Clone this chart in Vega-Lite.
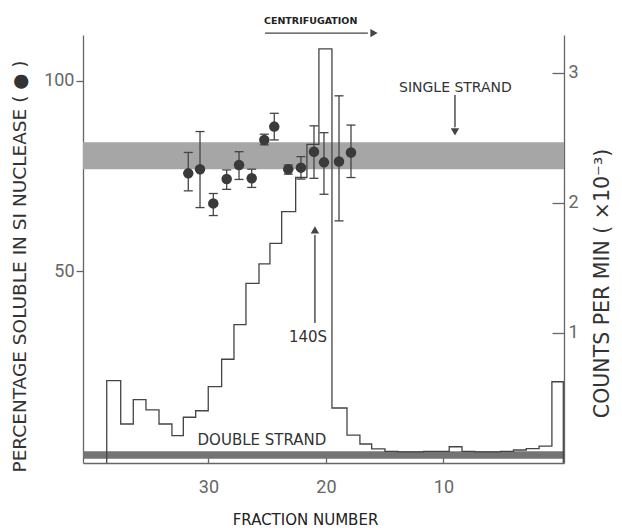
{
  "$schema": "https://vega.github.io/schema/vega-lite/v6.json",
  "width": 481,
  "height": 428,
  "autosize": {"type": "none"},
  "padding": {"left": 83, "top": 35, "right": 58, "bottom": 65},
  "background": "white",
  "config": {"view": {"stroke": null}, "font": "DejaVu Sans"},
  "datasets": {
    "bands": [
      {"band": "single", "lo": 76.8, "hi": 83.9},
      {"band": "double", "lo": 0.6, "hi": 2.6}
    ],
    "dots": [
      {"f": 31.72, "pct": 75.7, "lo": 71.1, "hi": 81.2},
      {"f": 30.72, "pct": 76.8, "lo": 66.7, "hi": 86.7},
      {"f": 29.59, "pct": 67.8, "lo": 64.6, "hi": 70.4},
      {"f": 28.45, "pct": 74.2, "lo": 71.5, "hi": 76.6},
      {"f": 27.40, "pct": 77.9, "lo": 74.1, "hi": 81.4},
      {"f": 26.32, "pct": 74.4, "lo": 72.0, "hi": 76.8},
      {"f": 25.25, "pct": 84.5, "lo": 83.2, "hi": 86.0},
      {"f": 24.40, "pct": 88.0, "lo": 84.5, "hi": 91.5},
      {"f": 23.21, "pct": 76.8, "lo": 75.5, "hi": 77.9},
      {"f": 22.13, "pct": 77.2, "lo": 74.2, "hi": 80.1},
      {"f": 21.02, "pct": 81.4, "lo": 74.4, "hi": 88.2},
      {"f": 20.17, "pct": 78.6, "lo": 70.2, "hi": 86.4},
      {"f": 18.89, "pct": 78.8, "lo": 63.2, "hi": 96.1},
      {"f": 17.87, "pct": 81.2, "lo": 74.6, "hi": 88.4}
    ],
    "hist": [
      {"i": 0, "f": 38.66, "cpm": 0},
      {"i": 1, "f": 38.66, "cpm": 0.633},
      {"i": 2, "f": 37.47, "cpm": 0.30},
      {"i": 3, "f": 36.40, "cpm": 0.487},
      {"i": 4, "f": 35.32, "cpm": 0.408},
      {"i": 5, "f": 34.21, "cpm": 0.30},
      {"i": 6, "f": 33.11, "cpm": 0.21},
      {"i": 7, "f": 32.14, "cpm": 0.352},
      {"i": 8, "f": 31.09, "cpm": 0.402},
      {"i": 9, "f": 30.02, "cpm": 0.587},
      {"i": 10, "f": 28.88, "cpm": 0.798},
      {"i": 11, "f": 27.83, "cpm": 1.064},
      {"i": 12, "f": 26.81, "cpm": 1.382},
      {"i": 13, "f": 25.70, "cpm": 1.531},
      {"i": 14, "f": 24.77, "cpm": 1.69},
      {"i": 15, "f": 23.77, "cpm": 1.933},
      {"i": 16, "f": 22.58, "cpm": 2.196},
      {"i": 17, "f": 21.62, "cpm": 2.45},
      {"i": 18, "f": 20.60, "cpm": 3.185},
      {"i": 19, "f": 19.49, "cpm": 0.423},
      {"i": 20, "f": 18.21, "cpm": 0.215},
      {"i": 21, "f": 17.11, "cpm": 0.146},
      {"i": 22, "f": 16.11, "cpm": 0.108},
      {"i": 23, "f": 14.98, "cpm": 0.09},
      {"i": 24, "f": 13.89, "cpm": 0.085},
      {"i": 25, "f": 12.79, "cpm": 0.085},
      {"i": 26, "f": 11.70, "cpm": 0.09},
      {"i": 27, "f": 10.60, "cpm": 0.09},
      {"i": 28, "f": 9.51, "cpm": 0.125},
      {"i": 29, "f": 8.42, "cpm": 0.09},
      {"i": 30, "f": 7.33, "cpm": 0.085},
      {"i": 31, "f": 6.23, "cpm": 0.085},
      {"i": 32, "f": 5.14, "cpm": 0.09},
      {"i": 33, "f": 4.04, "cpm": 0.10},
      {"i": 34, "f": 2.95, "cpm": 0.11},
      {"i": 35, "f": 1.86, "cpm": 0.13},
      {"i": 36, "f": 0.77, "cpm": 0.625},
      {"i": 37, "f": -0.20, "cpm": 0}
    ],
    "arrows": [
      {"f": 25.19, "f2": 16.43, "pct": 112.6, "pct2": 112.6},
      {"f": 9.02, "f2": 9.02, "pct": 96.3, "pct2": 87.8},
      {"f": 20.94, "f2": 20.94, "pct": 36.3, "pct2": 59.5}
    ],
    "heads": [
      {"f": 15.91, "pct": 112.6, "dir": "right"},
      {"f": 9.02, "pct": 86.6, "dir": "down"},
      {"f": 20.94, "pct": 60.8, "dir": "up"}
    ]
  },
  "layer": [
    {
      "data": {"name": "bands"},
      "mark": {"type": "rect"},
      "encoding": {
        "y": {
          "field": "lo", "type": "quantitative",
          "scale": {"domain": [-0.5, 112.1], "nice": false, "zero": false},
          "axis": {
            "orient": "left",
            "values": [50, 100],
            "title": "PERCENTAGE SOLUBLE IN SI NUCLEASE ( ● )",
            "titleFont": "DejaVu Sans", "titleFontSize": 18.5, "titleFontWeight": "normal",
            "titleColor": "#333", "titlePadding": 14, "titleY": 231,
            "labelFont": "Roboto", "labelFontSize": 18, "labelColor": "#666", "labelPadding": 2,
            "tickSize": 7, "tickColor": "#666", "tickWidth": 1.3,
            "domainColor": "#666", "domainWidth": 1.3, "grid": false
          }
        },
        "y2": {"field": "hi"},
        "color": {
          "field": "band", "type": "nominal",
          "scale": {"domain": ["single", "double"], "range": ["#a6a6a6", "#747474"]},
          "legend": null
        }
      }
    },
    {
      "data": {"name": "dots"},
      "mark": {"type": "rule", "color": "#444", "strokeWidth": 1.3},
      "encoding": {
        "x": {"field": "f", "type": "quantitative", "scale": {"domain": [-0.26, 40.68], "reverse": true, "nice": false, "zero": false}},
        "y": {"field": "lo", "type": "quantitative", "scale": {"domain": [-0.5, 112.1], "nice": false, "zero": false}, "axis": null},
        "y2": {"field": "hi"}
      }
    },
    {
      "data": {"name": "dots"},
      "mark": {"type": "tick", "orient": "horizontal", "size": 9, "thickness": 1.3, "color": "#444", "opacity": 1},
      "encoding": {
        "x": {"field": "f", "type": "quantitative", "scale": {"domain": [-0.26, 40.68], "reverse": true, "nice": false, "zero": false}},
        "y": {"field": "lo", "type": "quantitative", "scale": {"domain": [-0.5, 112.1], "nice": false, "zero": false}, "axis": null}
      }
    },
    {
      "data": {"name": "dots"},
      "mark": {"type": "tick", "orient": "horizontal", "size": 9, "thickness": 1.3, "color": "#444", "opacity": 1},
      "encoding": {
        "x": {"field": "f", "type": "quantitative", "scale": {"domain": [-0.26, 40.68], "reverse": true, "nice": false, "zero": false}},
        "y": {"field": "hi", "type": "quantitative", "scale": {"domain": [-0.5, 112.1], "nice": false, "zero": false}, "axis": null}
      }
    },
    {
      "data": {"name": "dots"},
      "mark": {"type": "circle", "size": 110, "color": "#3a3a3a", "opacity": 1},
      "encoding": {
        "x": {
          "field": "f", "type": "quantitative",
          "scale": {"domain": [-0.26, 40.68], "reverse": true, "nice": false, "zero": false},
          "axis": {
            "values": [10, 20, 30], "orient": "bottom",
            "title": "FRACTION NUMBER",
            "titleFont": "DejaVu Sans", "titleFontSize": 15, "titleFontWeight": "normal",
            "titleColor": "#222", "titlePadding": 16, "titleX": 222,
            "labelFont": "Roboto", "labelFontSize": 18, "labelColor": "#666", "labelPadding": 21,
            "tickSize": -6, "tickColor": "#666", "tickWidth": 1.3,
            "domainColor": "#666", "domainWidth": 1.3, "grid": false
          }
        },
        "y": {"field": "pct", "type": "quantitative", "scale": {"domain": [-0.5, 112.1], "nice": false, "zero": false}, "axis": null}
      }
    },
    {
      "data": {"name": "arrows"},
      "mark": {"type": "rule", "color": "#444", "strokeWidth": 1.4},
      "encoding": {
        "x": {"field": "f", "type": "quantitative", "scale": {"domain": [-0.26, 40.68], "reverse": true, "nice": false, "zero": false}},
        "x2": {"field": "f2"},
        "y": {"field": "pct", "type": "quantitative", "scale": {"domain": [-0.5, 112.1], "nice": false, "zero": false}, "axis": null},
        "y2": {"field": "pct2"}
      }
    },
    {
      "data": {"name": "heads"},
      "mark": {"type": "point", "filled": true, "size": 70, "color": "#444", "opacity": 1},
      "encoding": {
        "x": {"field": "f", "type": "quantitative", "scale": {"domain": [-0.26, 40.68], "reverse": true, "nice": false, "zero": false}},
        "y": {"field": "pct", "type": "quantitative", "scale": {"domain": [-0.5, 112.1], "nice": false, "zero": false}, "axis": null},
        "shape": {
          "field": "dir", "type": "nominal",
          "scale": {"domain": ["right", "down", "up"], "range": ["triangle-right", "triangle-down", "triangle-up"]},
          "legend": null
        }
      }
    },
    {
      "data": {"values": [{"label": "CENTRIFUGATION", "f": 25.28, "pct": 115.8}]},
      "mark": {"type": "text", "align": "left", "baseline": "middle", "fontSize": 9.5, "fontWeight": "bold", "color": "#222"},
      "encoding": {
        "x": {"field": "f", "type": "quantitative", "scale": {"domain": [-0.26, 40.68], "reverse": true, "nice": false, "zero": false}},
        "y": {"field": "pct", "type": "quantitative", "scale": {"domain": [-0.5, 112.1], "nice": false, "zero": false}, "axis": null},
        "text": {"field": "label"}
      }
    },
    {
      "data": {"values": [{"label": "SINGLE STRAND", "f": 8.98, "pct": 98.2}]},
      "mark": {"type": "text", "align": "center", "baseline": "middle", "fontSize": 14, "color": "#333"},
      "encoding": {
        "x": {"field": "f", "type": "quantitative", "scale": {"domain": [-0.26, 40.68], "reverse": true, "nice": false, "zero": false}},
        "y": {"field": "pct", "type": "quantitative", "scale": {"domain": [-0.5, 112.1], "nice": false, "zero": false}, "axis": null},
        "text": {"field": "label"}
      }
    },
    {
      "data": {"values": [
        {"label": "140S", "f": 21.53, "pct": 32.6},
        {"label": "DOUBLE STRAND", "f": 25.45, "pct": 5.5}
      ]},
      "mark": {"type": "text", "align": "center", "baseline": "middle", "fontSize": 15, "color": "#333"},
      "encoding": {
        "x": {"field": "f", "type": "quantitative", "scale": {"domain": [-0.26, 40.68], "reverse": true, "nice": false, "zero": false}},
        "y": {"field": "pct", "type": "quantitative", "scale": {"domain": [-0.5, 112.1], "nice": false, "zero": false}, "axis": null},
        "text": {"field": "label"}
      }
    },
    {
      "data": {"name": "hist"},
      "mark": {"type": "line", "interpolate": "step-after", "color": "#444", "strokeWidth": 1.3},
      "encoding": {
        "x": {"field": "f", "type": "quantitative", "scale": {"domain": [-0.26, 40.68], "reverse": true, "nice": false, "zero": false}},
        "y": {
          "field": "cpm", "type": "quantitative",
          "scale": {"domain": [0, 3.292], "nice": false, "zero": false},
          "axis": {
            "orient": "right", "values": [1, 2, 3],
            "title": "COUNTS PER MIN ( ×10⁻³)",
            "titleAngle": 270, "titleBaseline": "bottom",
            "titleFont": "DejaVu Sans", "titleFontSize": 20.5, "titleFontWeight": "normal",
            "titleColor": "#333", "titlePadding": 34, "titleY": 248,
            "labelFont": "Roboto", "labelFontSize": 18, "labelColor": "#666", "labelPadding": 16,
            "tickSize": -12, "tickColor": "#666", "tickWidth": 1.3,
            "domainColor": "#666", "domainWidth": 1.3, "grid": false
          }
        },
        "order": {"field": "i", "type": "quantitative"}
      }
    }
  ],
  "resolve": {"scale": {"y": "independent"}}
}
